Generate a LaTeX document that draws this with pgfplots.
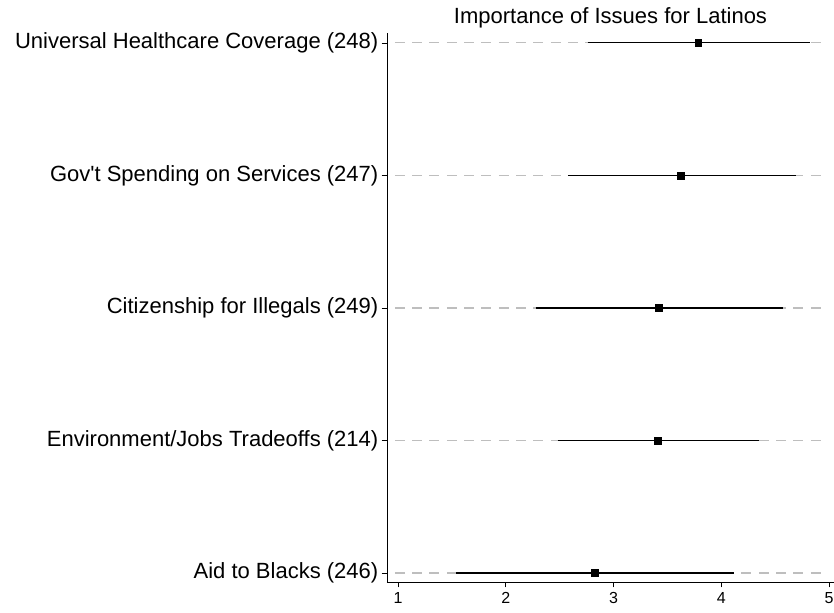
\documentclass[border=0pt]{standalone}
\usepackage{fontspec}
\setmainfont{Liberation Sans}
\usepackage{pgfplots}
\pgfplotsset{compat=1.18}
\definecolor{gridgray}{RGB}{190,190,190}
\begin{document}
\begin{tikzpicture}
\useasboundingbox (-290.25pt,-22.5pt) rectangle (335.25pt,436.5pt);
\begin{axis}[
  scale only axis,
  width=335.25pt, height=411.75pt,
  at={(0,0)}, anchor=south west,
  xmin=0.898, xmax=5.045,
  ymin=-0.068, ymax=4.075,
  axis x line*=bottom, axis y line*=left,
  axis line style={black, line width=0.6pt},
  xtick={1,2,3,4,5},
  ytick={0,1,2,3,4},
  yticklabels={Aid to Blacks (246), Environment/Jobs Tradeoffs (214), Citizenship for Illegals (249), Gov\textquotesingle t Spending on Services (247), Universal Healthcare Coverage (248)},
  tick align=outside,
  major tick length=4pt,
  tick style={black, line width=0.6pt},
  /pgf/number format/assume math mode=true,
  xticklabel style={font=\fontsize{12}{14}\selectfont, yshift=-0.5pt},
  yticklabel style={font=\fontsize{16.5}{19}\selectfont, xshift=1pt},
  title={Importance of Issues for Latinos},
  title style={at={(0.5,1)}, anchor=base, yshift=1pt, font=\fontsize{16.5}{19}\selectfont},
  clip=false,
]
% dashed reference lines
\foreach \yy in {0,1,2,3,4}{
  \edef\tmp{\noexpand\addplot[gridgray, line width=0.8pt, dash pattern=on 7.5pt off 5.5pt, forget plot] coordinates {(0.97,\yy) (4.94,\yy)};}
  \tmp
}
% intervals
\addplot[black, line width=0.8pt] coordinates {(2.76,4) (4.822,4)};
\addplot[black, line width=0.8pt] coordinates {(2.575,3) (4.69,3)};
\addplot[black, line width=0.8pt] coordinates {(2.277,2) (4.57,2)};
\addplot[black, line width=0.8pt] coordinates {(2.482,1) (4.35,1)};
\addplot[black, line width=0.8pt] coordinates {(1.538,0) (4.12,0)};
% means
\addplot[only marks, mark=square*, mark size=2.6pt, black] coordinates {
  (3.786,4) (3.622,3) (3.42,2) (3.41,1) (2.828,0)
};
\end{axis}
\end{tikzpicture}
\end{document}
